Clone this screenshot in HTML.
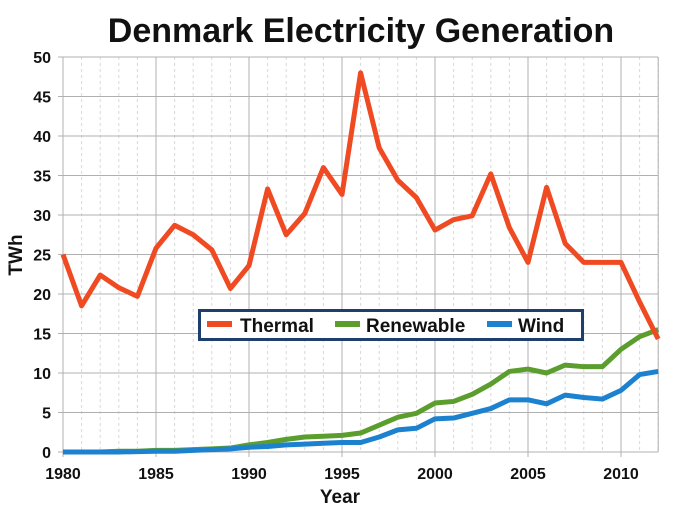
<!DOCTYPE html>
<html><head><meta charset="utf-8"><style>
html,body{margin:0;padding:0;background:#fff;}
svg{display:block;font-family:"Liberation Sans",Arial,sans-serif;}
</style></head><body>
<svg id="s" width="683" height="512" viewBox="0 0 683 512" xmlns="http://www.w3.org/2000/svg">
<text x="361" y="42" text-anchor="middle" font-size="34" font-weight="bold" fill="#111">Denmark Electricity Generation</text>
<g id="grid"></g>
<g id="lines"></g>
<text x="340" y="503" text-anchor="middle" font-size="19" font-weight="bold" fill="#111">Year</text>
<text transform="translate(22,255) rotate(-90)" text-anchor="middle" font-size="19" font-weight="bold" fill="#111">TWh</text>
<rect x="199.5" y="310.5" width="383" height="29" fill="#fff" stroke="#1d3f6e" stroke-width="3"/>
<rect x="207" y="321" width="25" height="6" fill="#f04a23"/>
<text x="240" y="332" font-size="19" font-weight="bold" fill="#111">Thermal</text>
<rect x="335" y="321" width="25" height="6" fill="#5b9e2e"/>
<text x="366" y="332" font-size="19" font-weight="bold" fill="#111">Renewable</text>
<rect x="487" y="321" width="25" height="6" fill="#1c82cf"/>
<text x="518" y="332" font-size="19" font-weight="bold" fill="#111">Wind</text>
</svg>
<script>
var X=function(y){return 63+(y-1980)*18.6;}, Y=function(v){return 452-v*7.9;};
var g='';
for(var yr=1980;yr<=2012;yr++){var x=X(yr);
 if(yr%5==0){g+='<line x1="'+x+'" y1="57" x2="'+x+'" y2="457" stroke="#b0b0b0" stroke-width="1"/>';
  g+='<text x="'+x+'" y="479" text-anchor="middle" font-size="16" font-weight="bold" fill="#111">'+yr+'</text>';}
 else g+='<line x1="'+x+'" y1="57" x2="'+x+'" y2="452" stroke="#d8d8d8" stroke-width="1" stroke-dasharray="3,3"/>';}
g+='<line x1="'+X(2012)+'" y1="57" x2="'+X(2012)+'" y2="452" stroke="#b0b0b0"/>';
for(var v=0;v<=50;v+=5){var y=Y(v);
 g+='<line x1="58" y1="'+y+'" x2="'+X(2012)+'" y2="'+y+'" stroke="#b0b0b0" stroke-width="1"/>';
 g+='<text x="51" y="'+(y+6)+'" text-anchor="end" font-size="16" font-weight="bold" fill="#111">'+v+'</text>';}
document.getElementById('grid').innerHTML=g;
var th=[25,18.5,22.4,20.8,19.7,25.8,28.7,27.5,25.6,20.7,23.6,33.3,27.5,30.2,36,32.6,48,38.5,34.4,32.2,28.1,29.4,29.9,35.2,28.4,24,33.5,26.4,24,24,24,19,14.3];
var re=[0,0,0,0.1,0.1,0.2,0.2,0.3,0.4,0.5,0.9,1.2,1.6,1.9,2,2.1,2.4,3.4,4.4,4.9,6.2,6.4,7.3,8.6,10.2,10.5,10,11,10.8,10.8,13,14.6,15.5];
var wi=[0,0,0,0,0.05,0.1,0.1,0.2,0.3,0.4,0.6,0.7,0.9,1.0,1.1,1.2,1.2,1.9,2.8,3.0,4.2,4.3,4.9,5.5,6.6,6.6,6.1,7.2,6.9,6.7,7.8,9.8,10.2];
function pl(d,c){return '<polyline fill="none" stroke="'+c+'" stroke-width="5" stroke-linejoin="round" points="'+d.map(function(v,i){return X(1980+i)+','+Y(v);}).join(' ')+'"/>';}
document.getElementById('lines').innerHTML=pl(re,'#5b9e2e')+pl(wi,'#1c82cf')+pl(th,'#f04a23');
</script>
</body></html>
